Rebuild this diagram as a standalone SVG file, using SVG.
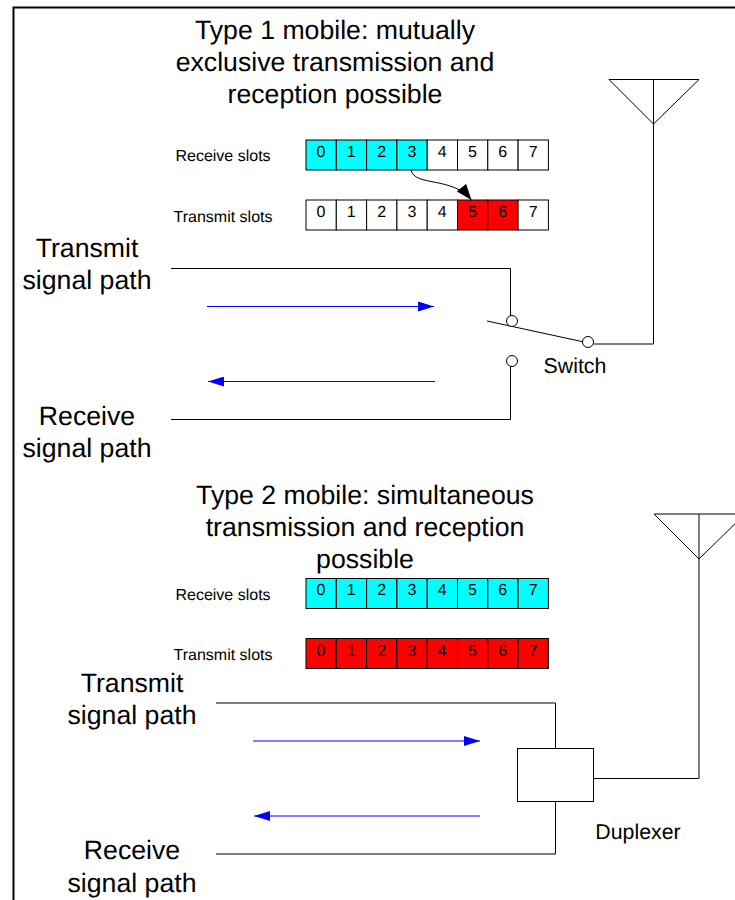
<svg xmlns="http://www.w3.org/2000/svg" width="735" height="900" viewBox="0 0 735 900">
<style>
text{font-family:"Liberation Sans",Arial,sans-serif;fill:#000;text-anchor:middle;text-rendering:geometricPrecision}
.t{font-size:26.670px}
.s{font-size:16px}
.n{font-size:21.330px}
.c{font-size:16px}
.w{fill:#fff;stroke:#000;stroke-width:1}
.b{fill:#00ffff;stroke:#000;stroke-width:1}
.r{fill:#ff0000;stroke:#000;stroke-width:1}
.l{fill:none;stroke:#000;stroke-width:1}
.u{fill:none;stroke:#0000ff;stroke-width:1}
</style>
<defs>
<marker id="ab" markerUnits="userSpaceOnUse" markerWidth="16" markerHeight="10" refX="16" refY="5" orient="auto"><path d="M0 0L16 5L0 10Z" fill="#0000ff"/></marker>
<marker id="ak" markerUnits="userSpaceOnUse" markerWidth="16" markerHeight="12" refX="16" refY="6" orient="auto"><path d="M0 0L16 6L0 12Z" fill="#000"/></marker>
</defs>
<rect width="735" height="900" fill="#fff"/>
<path id="frame" d="M13.500 900V7.500H735" fill="none" stroke="#000" stroke-width="2"/>
<g id="title1"><text class="t" x="335" y="39">Type 1 mobile: mutually</text><text class="t" x="335" y="71">exclusive transmission and</text><text class="t" x="335" y="103">reception possible</text></g>
<g id="rx1"><text class="s" x="223" y="161">Receive slots</text>
<rect class="b" x="306" y="140" width="30.300" height="30"/><rect class="b" x="336.300" y="140" width="30.300" height="30"/><rect class="b" x="366.600" y="140" width="30.300" height="30"/><rect class="b" x="396.900" y="140" width="30.300" height="30"/><rect class="w" x="427.200" y="140" width="30.300" height="30"/><rect class="w" x="457.500" y="140" width="30.300" height="30"/><rect class="w" x="487.800" y="140" width="30.300" height="30"/><rect class="w" x="518.100" y="140" width="30.300" height="30"/>
<text class="c" x="321" y="157">0</text><text class="c" x="351.300" y="157">1</text><text class="c" x="381.600" y="157">2</text><text class="c" x="411.900" y="157">3</text><text class="c" x="442.200" y="157">4</text><text class="c" x="472.500" y="157">5</text><text class="c" x="502.800" y="157">6</text><text class="c" x="533.100" y="157">7</text></g>
<g id="tx1"><text class="s" x="223" y="222">Transmit slots</text>
<rect class="w" x="306" y="200" width="30.300" height="30"/><rect class="w" x="336.300" y="200" width="30.300" height="30"/><rect class="w" x="366.600" y="200" width="30.300" height="30"/><rect class="w" x="396.900" y="200" width="30.300" height="30"/><rect class="w" x="427.200" y="200" width="30.300" height="30"/><rect class="r" x="457.500" y="200" width="30.300" height="30"/><rect class="r" x="487.800" y="200" width="30.300" height="30"/><rect class="w" x="518.100" y="200" width="30.300" height="30"/>
<text class="c" x="321" y="217">0</text><text class="c" x="351.300" y="217">1</text><text class="c" x="381.600" y="217">2</text><text class="c" x="411.900" y="217">3</text><text class="c" x="442.200" y="217">4</text><text class="c" x="472.500" y="217">5</text><text class="c" x="502.800" y="217">6</text><text class="c" x="533.100" y="217">7</text></g>
<g id="labels1"><text class="t" x="87" y="257">Transmit</text><text class="t" x="87" y="289">signal path</text><text class="t" x="87" y="425">Receive</text><text class="t" x="87" y="457">signal path</text><text class="n" x="575" y="373">Switch</text></g>
<g id="connectors">
<path class="l" d="M411 170C415 187 452 176 471.500 200" marker-end="url(#ak)"/>
<path class="l" d="M171 268.500H510.500V317"/>
<path class="l" d="M171 419.500H510.500V366"/>
<path class="l" d="M487 321L584 342"/>
<path class="l" d="M594 344H653.500V79.500"/>
<path class="u" d="M207 306.500H434" marker-end="url(#ab)"/>
<path class="u" d="M435 381.500H208" marker-end="url(#ab)"/>
<path class="l" d="M216 703H555.500V748"/>
<path class="l" d="M216 854H555.500V801"/>
<path class="l" d="M593 778.500H699V514"/>
<path class="u" d="M253 741H480" marker-end="url(#ab)"/>
<path class="u" d="M480 816H254" marker-end="url(#ab)"/>
</g>
<g id="antenna1"><path class="l" d="M609 79.500H699L653.500 124L609 79.500Z"/></g>
<g id="switch"><circle class="w" cx="512" cy="321" r="5.500"/><circle class="w" cx="512" cy="361" r="5.500"/><circle class="w" cx="588" cy="342" r="5.500"/></g>
<g id="title2"><text class="t" x="365" y="504">Type 2 mobile: simultaneous</text><text class="t" x="365" y="536">transmission and reception</text><text class="t" x="365" y="568">possible</text></g>
<g id="rx2"><text class="s" x="223" y="600">Receive slots</text>
<rect class="b" x="306" y="578.500" width="30.300" height="30"/><rect class="b" x="336.300" y="578.500" width="30.300" height="30"/><rect class="b" x="366.600" y="578.500" width="30.300" height="30"/><rect class="b" x="396.900" y="578.500" width="30.300" height="30"/><rect class="b" x="427.200" y="578.500" width="30.300" height="30"/><rect class="b" x="457.500" y="578.500" width="30.300" height="30"/><rect class="b" x="487.800" y="578.500" width="30.300" height="30"/><rect class="b" x="518.100" y="578.500" width="30.300" height="30"/>
<text class="c" x="321" y="595">0</text><text class="c" x="351.300" y="595">1</text><text class="c" x="381.600" y="595">2</text><text class="c" x="411.900" y="595">3</text><text class="c" x="442.200" y="595">4</text><text class="c" x="472.500" y="595">5</text><text class="c" x="502.800" y="595">6</text><text class="c" x="533.100" y="595">7</text></g>
<g id="tx2"><text class="s" x="223" y="660">Transmit slots</text>
<rect class="r" x="306" y="638.500" width="30.300" height="30"/><rect class="r" x="336.300" y="638.500" width="30.300" height="30"/><rect class="r" x="366.600" y="638.500" width="30.300" height="30"/><rect class="r" x="396.900" y="638.500" width="30.300" height="30"/><rect class="r" x="427.200" y="638.500" width="30.300" height="30"/><rect class="r" x="457.500" y="638.500" width="30.300" height="30"/><rect class="r" x="487.800" y="638.500" width="30.300" height="30"/><rect class="r" x="518.100" y="638.500" width="30.300" height="30"/>
<text class="c" x="321" y="656">0</text><text class="c" x="351.300" y="656">1</text><text class="c" x="381.600" y="656">2</text><text class="c" x="411.900" y="656">3</text><text class="c" x="442.200" y="656">4</text><text class="c" x="472.500" y="656">5</text><text class="c" x="502.800" y="656">6</text><text class="c" x="533.100" y="656">7</text></g>
<g id="labels2"><text class="t" x="132" y="692">Transmit</text><text class="t" x="132" y="724">signal path</text><text class="t" x="132" y="859">Receive</text><text class="t" x="132" y="892">signal path</text><text class="n" x="638" y="839">Duplexer</text></g>
<g id="duplexer"><rect class="w" x="517.500" y="748.500" width="76" height="53"/></g>
<g id="antenna2"><path class="l" d="M654 514H745L699 559L654 514Z"/></g>
</svg>
